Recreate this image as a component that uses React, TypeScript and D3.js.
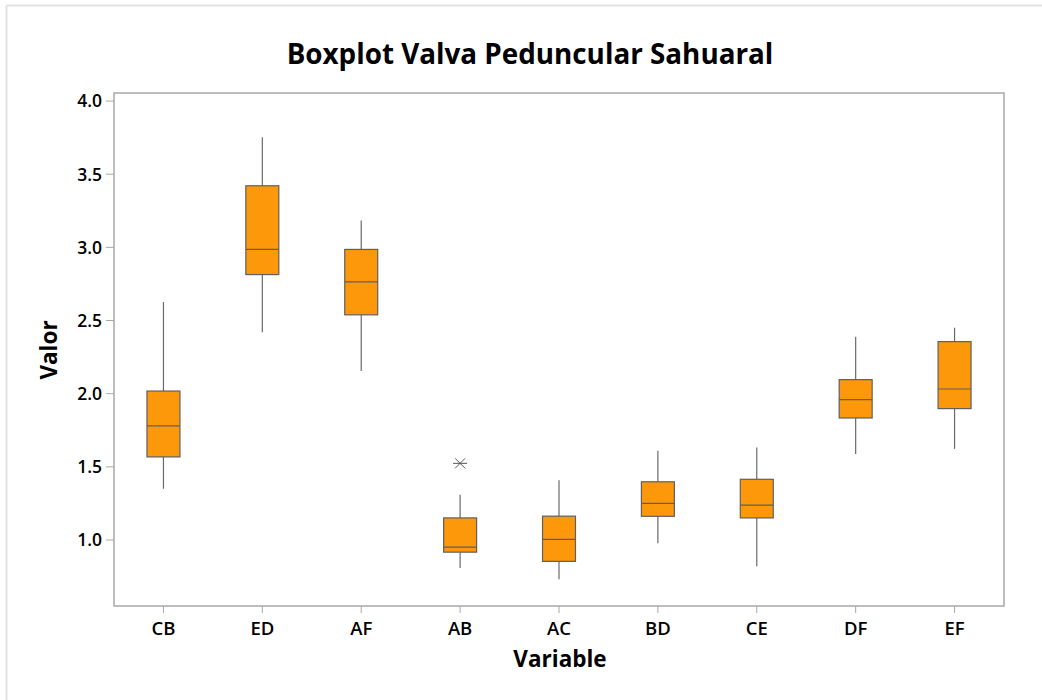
import React from "react";
import * as d3 from "d3";

const categories = ["CB", "ED", "AF", "AB", "AC", "BD", "CE", "DF", "EF"];
const whiskerLow = [1.35, 2.42, 2.155, 0.808, 0.731, 0.978, 0.82, 1.587, 1.623];
const q1 = [1.568, 2.814, 2.539, 0.917, 0.854, 1.162, 1.151, 1.834, 1.898];
const median = [1.78, 2.986, 2.764, 0.951, 1.004, 1.251, 1.238, 1.96, 2.032];
const q3 = [2.018, 3.421, 2.986, 1.151, 1.163, 1.398, 1.415, 2.096, 2.356];
const whiskerHigh = [2.626, 3.753, 3.184, 1.31, 1.409, 1.61, 1.633, 2.389, 2.451];
const outliers: { cat: string; value: number }[] = [{ cat: "AB", value: 1.524 }];
const yTicks = [1.0, 1.5, 2.0, 2.5, 3.0, 3.5, 4.0];

const title = "Boxplot Valva Peduncular Sahuaral";
const xTitle = "Variable";
const yTitle = "Valor";

const W = 1042;
const H = 700;
const M = { left: 114, right: 1004, top: 93, bottom: 606 };
const FONT = "'Open Sans', 'Noto Sans', sans-serif";

export default function App() {
  const x = d3.scaleBand<string>().domain(categories).range([M.left, M.right]).padding(0);
  const y = d3.scaleLinear().domain([0.549, 4.055]).range([M.bottom, M.top]);
  const bw = x.bandwidth() / 3;
  const axisColor = "#a8a8a8";
  const boxStroke = "#5f5f5f";
  const fill = "#FC980A";

  return (
    <svg width={W} height={H} style={{ position: "absolute", left: 0, top: 0, background: "#fff" }}>
      <rect x={0} y={0} width={W} height={H} fill="#fff" />
      {/* outer frame */}
      <line x1={6.5} y1={5.5} x2={6.5} y2={H} stroke="#e2e2e2" strokeWidth={2} />
      <line x1={6.5} y1={5.5} x2={W} y2={5.5} stroke="#e2e2e2" strokeWidth={2} />

      <text x={530} y={64} textAnchor="middle" fontFamily={FONT} fontWeight={700} fontSize={27.8} fill="#000">
        {title}
      </text>

      {/* plot frame */}
      <rect x={M.left} y={M.top} width={M.right - M.left} height={M.bottom - M.top} fill="none" stroke={axisColor} strokeWidth={1.5} />

      {/* y ticks */}
      {yTicks.map((t) => (
        <g key={t}>
          <line x1={M.left - 8} x2={M.left} y1={y(t)} y2={y(t)} stroke={axisColor} strokeWidth={1} />
          <text x={M.left - 12} y={y(t)} dy="0.36em" textAnchor="end" fontFamily={FONT} fontWeight={600} fontSize={17.5} fill="#000">
            {d3.format(".1f")(t)}
          </text>
        </g>
      ))}

      {/* x ticks */}
      {categories.map((c) => {
        const cx = (x(c) as number) + x.bandwidth() / 2;
        return (
          <g key={c}>
            <line x1={cx} x2={cx} y1={M.bottom} y2={M.bottom + 7} stroke={axisColor} strokeWidth={1} />
            <text x={cx} y={635} textAnchor="middle" fontFamily={FONT} fontWeight={600} fontSize={18.5} fill="#000">
              {c}
            </text>
          </g>
        );
      })}

      <text x={560} y={667} textAnchor="middle" fontFamily={FONT} fontWeight={700} fontSize={22.5} fill="#000">
        {xTitle}
      </text>
      <text transform={`translate(57,350) rotate(-90)`} textAnchor="middle" fontFamily={FONT} fontWeight={700} fontSize={22.5} fill="#000">
        {yTitle}
      </text>

      {/* boxes */}
      {categories.map((c, i) => {
        const cx = (x(c) as number) + x.bandwidth() / 2;
        return (
          <g key={c}>
            <line x1={cx} x2={cx} y1={y(whiskerHigh[i])} y2={y(q3[i])} stroke="#6a6a6a" strokeWidth={1.2} />
            <line x1={cx} x2={cx} y1={y(q1[i])} y2={y(whiskerLow[i])} stroke="#6a6a6a" strokeWidth={1.2} />
            <rect x={cx - bw / 2} y={y(q3[i])} width={bw} height={y(q1[i]) - y(q3[i])} fill={fill} stroke={boxStroke} strokeWidth={1.2} />
            <line x1={cx - bw / 2} x2={cx + bw / 2} y1={y(median[i])} y2={y(median[i])} stroke={boxStroke} strokeWidth={1.2} />
          </g>
        );
      })}

      {/* outliers */}
      {outliers.map((o, i) => {
        const cx = (x(o.cat) as number) + x.bandwidth() / 2;
        const cy = y(o.value);
        return (
          <g key={i} stroke="#555" strokeWidth={1}>
            <line x1={cx - 7} x2={cx + 7} y1={cy} y2={cy} />
            <line x1={cx - 5} x2={cx + 5} y1={cy - 5} y2={cy + 5} />
            <line x1={cx - 5} x2={cx + 5} y1={cy + 5} y2={cy - 5} />
          </g>
        );
      })}
    </svg>
  );
}
